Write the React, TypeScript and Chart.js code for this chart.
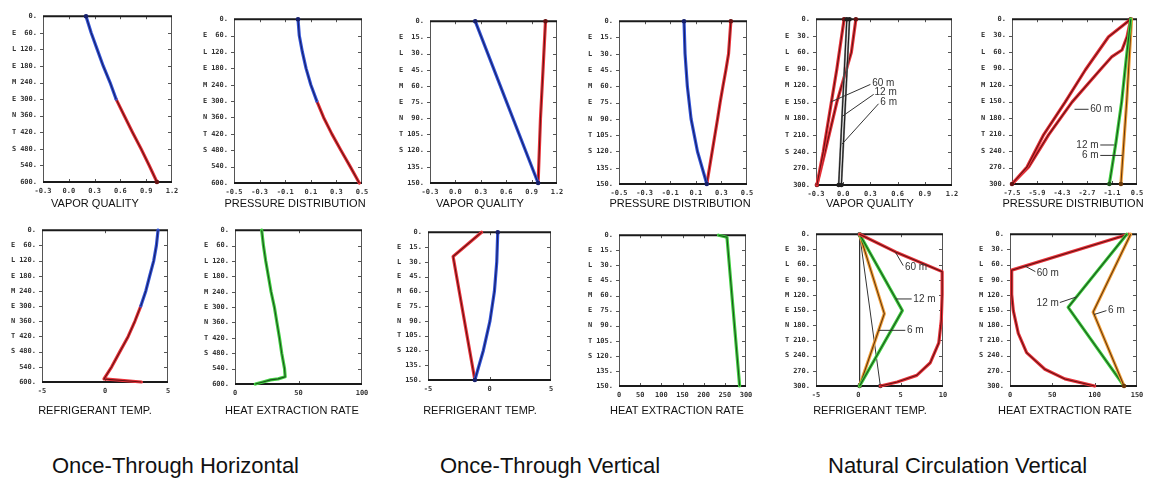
import React, { useEffect, useRef } from "react";
import { Chart, registerables } from "chart.js";
Chart.register(...registerables);

// ---------- tick values & labels ----------
const DEPTH_600 = [0, 60, 120, 180, 240, 300, 360, 420, 480, 540, 600];
const DEPTH_300 = [0, 30, 60, 90, 120, 150, 180, 210, 240, 270, 300];
const DEPTH_150 = [0, 15, 30, 45, 60, 75, 90, 105, 120, 135, 150];
const AXIS_LETTERS = ["E", "L", "E", "M", "E", "N", "T", "S"];
const VQ_TICKS = [-0.3, 0, 0.3, 0.6, 0.9, 1.2];
const VQ_LABELS = ["-0.3", "0.0", "0.3", "0.6", "0.9", "1.2"];
const PD_TICKS = [-0.5, -0.3, -0.1, 0.1, 0.3, 0.5];
const PD_LABELS = ["-0.5", "-0.3", "-0.1", "0.1", "0.3", "0.5"];
const NC_PD_TICKS = [-7.5, -5.9, -4.3, -2.7, -1.1, 0.5];
const NC_PD_LABELS = ["-7.5", "-5.9", "-4.3", "-2.7", "-1.1", "0.5"];
const TEMP_TICKS = [-5, 0, 5];
const NC_TEMP_TICKS = [-5, 0, 5, 10];
const HEAT_TICKS = [0, 50, 100];
const OTV_HEAT_TICKS = [0, 50, 100, 150, 200, 250, 300];
const NC_HEAT_TICKS = [0, 50, 100, 150];

// ---------- Once-Through Horizontal ----------
const OTH_VQ_BLUE_D = [0, 60, 120, 180, 240, 300];
const OTH_VQ_BLUE = [0.2, 0.26, 0.33, 0.4, 0.48, 0.55];
const OTH_VQ_RED_D = [300, 360, 420, 480, 540, 600];
const OTH_VQ_RED = [0.55, 0.645, 0.74, 0.84, 0.935, 1.025];

const OTH_PD_BLUE_D = [0, 60, 120, 180, 240, 300];
const OTH_PD_BLUE = [0.0, 0.01, 0.034, 0.063, 0.1, 0.147];
const OTH_PD_RED_D = [300, 360, 420, 480, 540, 600];
const OTH_PD_RED = [0.147, 0.2, 0.264, 0.335, 0.408, 0.479];

const OTH_T_BLUE_D = [0, 60, 120, 180, 240, 300];
const OTH_T_BLUE = [4.21, 4.08, 3.87, 3.55, 3.24, 2.84];
const OTH_T_RED_D = [300, 360, 420, 480, 540, 588, 600];
const OTH_T_RED = [2.84, 2.37, 1.84, 1.18, 0.53, -0.08, 2.89];

const OTH_Q_D = [0, 60, 120, 180, 240, 300, 360, 420, 480, 540, 572, 580, 584, 592, 600];
const OTH_Q = [21, 22.4, 24.2, 26.3, 28.4, 31, 33, 35, 36.8, 39, 39.5, 34, 28, 22, 16];

// ---------- Once-Through Vertical ----------
const OTV_VQ_BLUE_D = [0, 75, 150];
const OTV_VQ_BLUE = [0.234, 0.605, 0.977];
const OTV_VQ_RED_D = [0, 45, 90, 150];
const OTV_VQ_RED = [1.064, 1.035, 1.005, 0.977];

const OTV_PD_BLUE_D = [0, 30, 60, 90, 120, 150];
const OTV_PD_BLUE = [0.008, 0.016, 0.034, 0.063, 0.113, 0.186];
const OTV_PD_RED_D = [0, 30, 45, 60, 75, 90, 120, 150];
const OTV_PD_RED = [0.374, 0.356, 0.335, 0.312, 0.29, 0.27, 0.228, 0.186];

const OTV_T_BLUE_D = [0, 30, 60, 90, 120, 150];
const OTV_T_BLUE = [0.67, 0.59, 0.4, 0.04, -0.5, -1.19];
const OTV_T_RED_D = [0, 24.7, 150];
const OTV_T_RED = [-0.64, -2.96, -1.19];

const OTV_Q_D = [0, 2, 150];
const OTV_Q = [235, 255, 285];

// ---------- Natural Circulation Vertical ----------
const NC_VQ_60A_D = [0, 90, 150, 240, 300];
const NC_VQ_60A = [0.01, -0.07, -0.13, -0.22, -0.29];
const NC_VQ_60B_D = [0, 60, 150, 240, 300];
const NC_VQ_60B = [0.14, 0.09, -0.07, -0.2, -0.29];
const NC_VQ_12_D = [0, 300];
const NC_VQ_12 = [0.04, -0.05];
const NC_VQ_6_D = [0, 300];
const NC_VQ_6 = [0.07, -0.02];

const NC_PD_60A_D = [0, 32, 62, 92, 151, 210, 269, 300];
const NC_PD_60A = [0.1, -1.32, -2.06, -2.8, -4.1, -5.47, -6.54, -7.5];
const NC_PD_60B_D = [0, 32, 56, 68, 92, 151, 210, 269, 300];
const NC_PD_60B = [0.1, -0.14, -0.46, -1.1, -1.85, -3.66, -5.15, -6.43, -7.5];
const NC_PD_12_D = [0, 75, 150, 225, 300];
const NC_PD_12 = [0.1, -0.2, -0.48, -0.85, -1.27];
const NC_PD_6_D = [0, 150, 300];
const NC_PD_6 = [0.15, -0.16, -0.53];

const NC_T_REF_D = [0, 300];
const NC_T_REF = [0.15, 0.15];
const NC_T_DIAG = [0.15, 2.6];
const NC_T_60_D = [0, 35, 74, 119, 170, 215, 254, 279, 292, 300];
const NC_T_60 = [0.15, 4.4, 9.9, 9.9, 9.8, 9.5, 8.5, 6.9, 4.6, 2.6];
const NC_T_12_D = [0, 151, 300];
const NC_T_12 = [0.15, 5.2, 0.15];
const NC_T_6_D = [0, 157, 300];
const NC_T_6 = [0.15, 3.07, 0.15];

const NC_Q_60_D = [0, 71, 119, 151, 196, 234, 267, 286, 300];
const NC_Q_60 = [140, 2, 2, 3.9, 9.8, 19.6, 41.2, 64.8, 100];
const NC_Q_12_D = [0, 144.5, 300];
const NC_Q_12 = [138, 68.7, 134.7];
const NC_Q_6_D = [0, 154, 300];
const NC_Q_6 = [142.5, 98.2, 134.7];

const GROUP_TITLES = ["Once-Through Horizontal", "Once-Through Vertical", "Natural Circulation Vertical"];

// ---------- styles ----------
const COL = {
  blue: ["#3354d8", "#17206a"],
  red: ["#e9333b", "#661212"],
  green: ["#41d041", "#1c541c"],
  orange: ["#f2a23c", "#6b3a0c"],
  gray: ["#8c8c8c", "#1e1e1e"],
  black: [null, "#333333"],
};

type Marks = "none" | "first" | "last" | "both";
type Series = { x: number[]; y: number[]; col: (string | null)[]; marks?: Marks; w?: number };
type Note = { text: string; tx: number; ty: number; align: CanvasTextAlign; l: number[] };
type PanelDef = {
  frame: number[];
  xTicks: number[];
  xLabels: string[];
  yTicks: number[];
  series: Series[];
  notes?: Note[];
  caption: string;
  capX: number;
  capY: number;
};

const ML = 36, MR = 12, MT = 6, MB = 18;
const TICK_FONT = { family: '"DejaVu Sans Mono", monospace', size: 7, weight: "bold" as const };

const PANELS: PanelDef[] = [
  {
    frame: [43, 12, 172, 182], xTicks: VQ_TICKS, xLabels: VQ_LABELS, yTicks: DEPTH_600,
    series: [
      { x: OTH_VQ_BLUE, y: OTH_VQ_BLUE_D, col: COL.blue, marks: "first" },
      { x: OTH_VQ_RED, y: OTH_VQ_RED_D, col: COL.red, marks: "last" },
    ],
    caption: "VAPOR QUALITY", capX: 95, capY: 203,
  },
  {
    frame: [234, 15, 362, 183], xTicks: PD_TICKS, xLabels: PD_LABELS, yTicks: DEPTH_600,
    series: [
      { x: OTH_PD_BLUE, y: OTH_PD_BLUE_D, col: COL.blue, marks: "first" },
      { x: OTH_PD_RED, y: OTH_PD_RED_D, col: COL.red },
    ],
    caption: "PRESSURE DISTRIBUTION", capX: 295, capY: 203,
  },
  {
    frame: [430, 17, 557, 183], xTicks: VQ_TICKS, xLabels: VQ_LABELS, yTicks: DEPTH_150,
    series: [
      { x: OTV_VQ_BLUE, y: OTV_VQ_BLUE_D, col: COL.blue, marks: "both" },
      { x: OTV_VQ_RED, y: OTV_VQ_RED_D, col: COL.red, marks: "first" },
    ],
    caption: "VAPOR QUALITY", capX: 480, capY: 203,
  },
  {
    frame: [619, 17, 747, 184], xTicks: PD_TICKS, xLabels: PD_LABELS, yTicks: DEPTH_150,
    series: [
      { x: OTV_PD_BLUE, y: OTV_PD_BLUE_D, col: COL.blue, marks: "both" },
      { x: OTV_PD_RED, y: OTV_PD_RED_D, col: COL.red, marks: "first" },
    ],
    caption: "PRESSURE DISTRIBUTION", capX: 680, capY: 203,
  },
  {
    frame: [816, 15, 952, 185], xTicks: VQ_TICKS, xLabels: VQ_LABELS, yTicks: DEPTH_300,
    series: [
      { x: NC_VQ_12, y: NC_VQ_12_D, col: COL.gray, marks: "both", w: 2 },
      { x: NC_VQ_6, y: NC_VQ_6_D, col: COL.gray, marks: "both", w: 2 },
      { x: NC_VQ_60A, y: NC_VQ_60A_D, col: COL.red, marks: "first" },
      { x: NC_VQ_60B, y: NC_VQ_60B_D, col: COL.red, marks: "both" },
    ],
    notes: [
      { text: "60 m", tx: 0.32, ty: 116, align: "left", l: [0.3, 118, -0.14, 150] },
      { text: "12 m", tx: 0.345, ty: 133, align: "left", l: [0.336, 136, -0.013, 176] },
      { text: "6 m", tx: 0.41, ty: 150, align: "left", l: [0.39, 153, -0.013, 226] },
    ],
    caption: "VAPOR QUALITY", capX: 870, capY: 203,
  },
  {
    frame: [1012, 15, 1137, 184], xTicks: NC_PD_TICKS, xLabels: NC_PD_LABELS, yTicks: DEPTH_300,
    series: [
      { x: NC_PD_12, y: NC_PD_12_D, col: COL.green, marks: "last" },
      { x: NC_PD_6, y: NC_PD_6_D, col: COL.orange, marks: "last" },
      { x: NC_PD_60A, y: NC_PD_60A_D, col: COL.red, marks: "both" },
      { x: NC_PD_60B, y: NC_PD_60B_D, col: COL.red },
    ],
    notes: [
      { text: "60 m", tx: -2.5, ty: 164, align: "left", l: [-3.5, 164, -2.6, 164] },
      { text: "12 m", tx: -1.96, ty: 229, align: "right", l: [-1.85, 229, -0.95, 229] },
      { text: "6 m", tx: -1.96, ty: 248, align: "right", l: [-1.85, 248, -0.45, 248] },
    ],
    caption: "PRESSURE DISTRIBUTION", capX: 1073, capY: 203,
  },
  {
    frame: [42, 226, 168, 382], xTicks: TEMP_TICKS, xLabels: TEMP_TICKS.map(String), yTicks: DEPTH_600,
    series: [
      { x: OTH_T_BLUE, y: OTH_T_BLUE_D, col: COL.blue },
      { x: OTH_T_RED, y: OTH_T_RED_D, col: COL.red },
    ],
    caption: "REFRIGERANT TEMP.", capX: 95, capY: 410,
  },
  {
    frame: [235, 226, 362, 384], xTicks: HEAT_TICKS, xLabels: HEAT_TICKS.map(String), yTicks: DEPTH_600,
    series: [{ x: OTH_Q, y: OTH_Q_D, col: COL.green }],
    caption: "HEAT EXTRACTION RATE", capX: 292, capY: 410,
  },
  {
    frame: [428, 228, 551, 380], xTicks: TEMP_TICKS, xLabels: TEMP_TICKS.map(String), yTicks: DEPTH_150,
    series: [
      { x: OTV_T_BLUE, y: OTV_T_BLUE_D, col: COL.blue, marks: "both" },
      { x: OTV_T_RED, y: OTV_T_RED_D, col: COL.red },
    ],
    caption: "REFRIGERANT TEMP.", capX: 480, capY: 410,
  },
  {
    frame: [619, 231, 746, 386], xTicks: OTV_HEAT_TICKS, xLabels: OTV_HEAT_TICKS.map(String), yTicks: DEPTH_150,
    series: [{ x: OTV_Q, y: OTV_Q_D, col: COL.green }],
    caption: "HEAT EXTRACTION RATE", capX: 677, capY: 410,
  },
  {
    frame: [816, 230, 943, 386], xTicks: NC_TEMP_TICKS, xLabels: NC_TEMP_TICKS.map(String), yTicks: DEPTH_300,
    series: [
      { x: NC_T_60, y: NC_T_60_D, col: COL.red },
      { x: NC_T_12, y: NC_T_12_D, col: COL.green },
      { x: NC_T_6, y: NC_T_6_D, col: COL.orange },
      { x: NC_T_REF, y: NC_T_REF_D, col: COL.black, marks: "both", w: 1 },
      { x: NC_T_DIAG, y: NC_T_REF_D, col: COL.black, marks: "last", w: 1 },
    ],
    notes: [
      { text: "60 m", tx: 5.5, ty: 66, align: "left", l: [4.4, 36, 5.3, 62] },
      { text: "12 m", tx: 6.5, ty: 128, align: "left", l: [4.45, 128, 6.3, 128] },
      { text: "6 m", tx: 5.75, ty: 190, align: "left", l: [2.4, 190, 5.55, 190] },
    ],
    caption: "REFRIGERANT TEMP.", capX: 870, capY: 410,
  },
  {
    frame: [1010, 230, 1137, 386], xTicks: NC_HEAT_TICKS, xLabels: NC_HEAT_TICKS.map(String), yTicks: DEPTH_300,
    series: [
      { x: NC_Q_6, y: NC_Q_6_D, col: COL.orange, marks: "last" },
      { x: NC_Q_12, y: NC_Q_12_D, col: COL.green },
      { x: NC_Q_60, y: NC_Q_60_D, col: COL.red },
    ],
    notes: [
      { text: "60 m", tx: 31.5, ty: 77, align: "left", l: [17.7, 63, 30, 74] },
      { text: "12 m", tx: 31.4, ty: 137, align: "left", l: [58.9, 135, 78.5, 124] },
      { text: "6 m", tx: 115.8, ty: 151, align: "left", l: [99.3, 158.7, 113.9, 151] },
    ],
    caption: "HEAT EXTRACTION RATE", capX: 1065, capY: 410,
  },
];

// Chart.js draws lower-index datasets on top, so each series' dark core is pushed before its coloured body.
function buildDatasets(series: Series[]) {
  const ds: any[] = [];
  series.forEach((s) => {
    const pts = s.x.map((x, i) => ({ x, y: s.y[i] }));
    const n = pts.length;
    const marks = s.marks || "none";
    ds.push({
      data: pts, showLine: true, borderColor: s.col[1], borderWidth: s.w === 1 ? 1 : 1.1,
      pointRadius: (c: any) =>
        (c.dataIndex === 0 && (marks === "first" || marks === "both")) ||
        (c.dataIndex === n - 1 && (marks === "last" || marks === "both")) ? 2.3 : 0,
      pointBackgroundColor: s.col[1], pointBorderWidth: 0, clip: false, tension: 0,
    });
    if (s.col[0]) {
      ds.push({
        data: pts, showLine: true, borderColor: s.col[0], borderWidth: s.w ?? 3.2,
        pointRadius: 0, clip: false, tension: 0, borderJoinStyle: "round", borderCapStyle: "round",
      });
    }
  });
  return ds;
}

function framePlugin(def: PanelDef) {
  return {
    id: "frame",
    beforeDatasetsDraw(chart: any) {
      const { ctx, chartArea: a, scales } = chart;
      const xs = scales.x, ys = scales.y;
      ctx.save();
      ctx.strokeStyle = "#555";
      ctx.lineWidth = 1;
      ctx.beginPath();
      ctx.moveTo(a.left + 0.5, a.top);
      ctx.lineTo(a.left + 0.5, a.bottom);
      ctx.moveTo(a.right - 0.5, a.top);
      ctx.lineTo(a.right - 0.5, a.bottom);
      def.yTicks.forEach((v, i) => {
        if (i === 0 || i === def.yTicks.length - 1) return;
        const py = Math.round(ys.getPixelForValue(v)) + 0.5;
        ctx.moveTo(a.left - 3, py);
        ctx.lineTo(a.left, py);
        ctx.moveTo(a.right - 4, py);
        ctx.lineTo(a.right, py);
      });
      def.xTicks.forEach((v, i) => {
        if (i === 0 || i === def.xTicks.length - 1) return;
        const px = Math.round(xs.getPixelForValue(v)) + 0.5;
        ctx.moveTo(px, a.bottom);
        ctx.lineTo(px, a.bottom - 3);
        ctx.moveTo(px, a.top);
        ctx.lineTo(px, a.top + 3);
      });
      ctx.stroke();
      ctx.strokeStyle = "#1a1a1a";
      ctx.lineWidth = 2;
      ctx.beginPath();
      ctx.moveTo(a.left, a.top);
      ctx.lineTo(a.right, a.top);
      ctx.moveTo(a.left, a.bottom);
      ctx.lineTo(a.right, a.bottom);
      ctx.stroke();
      ctx.restore();
    },
    afterDatasetsDraw(chart: any) {
      const { ctx, chartArea: a, scales } = chart;
      const xs = scales.x, ys = scales.y;
      ctx.save();
      ctx.fillStyle = "#333";
      ctx.font = 'bold 7px "DejaVu Sans Mono", monospace';
      ctx.textAlign = "center";
      ctx.textBaseline = "middle";
      AXIS_LETTERS.forEach((ch, i) => {
        ctx.fillText(ch, a.left - 29, ys.getPixelForValue(def.yTicks[i + 1]));
      });
      (def.notes || []).forEach((nt) => {
        ctx.strokeStyle = "#333";
        ctx.lineWidth = 1;
        ctx.beginPath();
        ctx.moveTo(xs.getPixelForValue(nt.l[0]), ys.getPixelForValue(nt.l[1]));
        ctx.lineTo(xs.getPixelForValue(nt.l[2]), ys.getPixelForValue(nt.l[3]));
        ctx.stroke();
        ctx.font = '10px "Liberation Sans", Arial, sans-serif';
        ctx.fillStyle = "#333";
        ctx.textAlign = nt.align;
        ctx.fillText(nt.text, xs.getPixelForValue(nt.tx), ys.getPixelForValue(nt.ty));
      });
      ctx.restore();
    },
  };
}

function Panel({ def }: { def: PanelDef }) {
  const ref = useRef<HTMLCanvasElement>(null);
  const [l, t, r, b] = def.frame;
  const W = r - l + ML + MR;
  const H = b - t + MT + MB;
  useEffect(() => {
    if (!ref.current) return;
    const chart = new Chart(ref.current, {
      type: "scatter",
      data: { datasets: buildDatasets(def.series) },
      options: {
        animation: false,
        responsive: false,
        devicePixelRatio: 1,
        events: [],
        layout: { padding: { top: MT, right: MR, left: 0, bottom: 0 } },
        plugins: { legend: { display: false }, tooltip: { enabled: false } },
        scales: {
          x: {
            type: "linear",
            min: def.xTicks[0],
            max: def.xTicks[def.xTicks.length - 1],
            afterBuildTicks: (sc: any) => { sc.ticks = def.xTicks.map((v) => ({ value: v })); },
            afterFit: (sc: any) => { sc.height = MB; },
            grid: { display: false, drawTicks: false },
            border: { display: false },
            ticks: {
              padding: 5, autoSkip: false, maxRotation: 0, color: "#333", font: TICK_FONT,
              callback: (_v: any, i: number) => def.xLabels[i],
            },
          },
          y: {
            type: "linear",
            reverse: true,
            min: 0,
            max: def.yTicks[def.yTicks.length - 1],
            afterBuildTicks: (sc: any) => { sc.ticks = def.yTicks.map((v) => ({ value: v })); },
            afterFit: (sc: any) => { sc.width = ML; },
            grid: { display: false, drawTicks: false },
            border: { display: false },
            ticks: {
              padding: 6, autoSkip: false, color: "#333", font: TICK_FONT,
              callback: (_v: any, i: number) => `${def.yTicks[i]}.`,
            },
          },
        },
      } as any,
      plugins: [framePlugin(def)],
    });
    return () => chart.destroy();
  }, []);
  return (
    <>
      <canvas
        ref={ref}
        width={W}
        height={H}
        style={{ position: "absolute", left: l - ML, top: t - MT, width: W, height: H }}
      />
      <div
        style={{
          position: "absolute", left: def.capX - 120, top: def.capY - 7, width: 240, textAlign: "center",
          font: '11px "Liberation Sans", Arial, sans-serif', lineHeight: "14px", color: "#111",
        }}
      >
        {def.caption}
      </div>
    </>
  );
}

const TITLE_X = [52, 440, 828];

export default function App() {
  return (
    <div style={{ position: "absolute", left: 0, top: 0, width: 1156, height: 481, background: "#fff", overflow: "hidden" }}>
      {PANELS.map((p, i) => (
        <Panel key={i} def={p} />
      ))}
      {GROUP_TITLES.map((t, i) => (
        <div
          key={t}
          style={{
            position: "absolute", left: TITLE_X[i], top: 452, whiteSpace: "nowrap",
            font: '22px "Liberation Sans", Arial, sans-serif', lineHeight: "28px", color: "#111",
          }}
        >
          {t}
        </div>
      ))}
    </div>
  );
}
